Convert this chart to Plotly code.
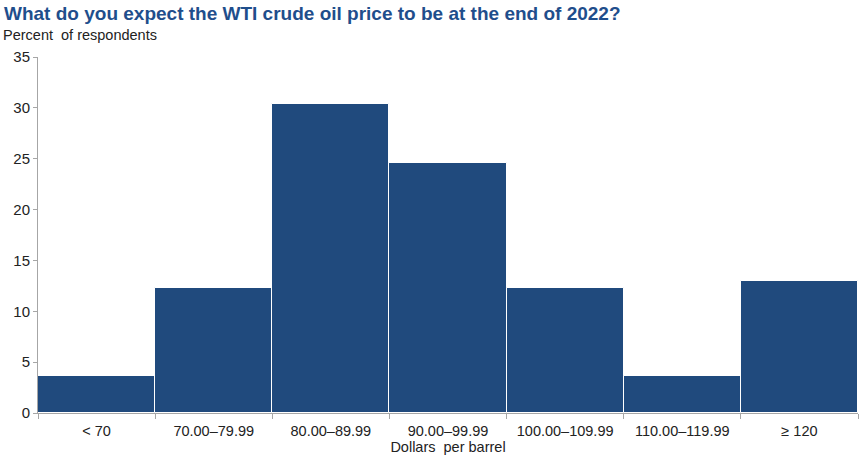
import plotly.graph_objects as go

categories = ["< 70", "70.00–79.99", "80.00–89.99", "90.00–99.99",
              "100.00–109.99", "110.00–119.99", "≥ 120"]
values = [3.6, 12.3, 30.4, 24.6, 12.3, 3.6, 13.0]
y_ticks = [0, 5, 10, 15, 20, 25, 30, 35]

fig = go.Figure(go.Bar(
    x=categories, y=values, width=1,
    marker=dict(color="#204A7D", line=dict(color="white", width=1)),
    hoverinfo="x+y",
))

font = "Liberation Sans, Arial, sans-serif"
fig.update_layout(
    width=868, height=461,
    margin=dict(l=38, r=10, t=57, b=48),
    paper_bgcolor="white", plot_bgcolor="white",
    font=dict(family=font, size=14.5, color="#222222"),
    showlegend=False,
    bargap=0,
)
fig.update_xaxes(
    type="category", tickson="boundaries",
    showline=True, linecolor="#A6A6A6", linewidth=1,
    ticks="outside", ticklen=5, tickcolor="#A6A6A6",
    ticklabelstandoff=5,
    showgrid=False,
    tickfont=dict(size=14.5, color="#222222"),
    title=dict(text="Dollars  per barrel", font=dict(size=14.5, color="#222222"), standoff=0),
)
fig.update_yaxes(
    range=[0, 35], tickvals=y_ticks,
    showline=True, linecolor="#A6A6A6", linewidth=1,
    ticks="outside", ticklen=4, tickcolor="#A6A6A6",
    showgrid=False, zeroline=False,
    tickfont=dict(size=15, color="#222222"),
)
fig.add_annotation(text="<b>What do you expect the WTI crude oil price to be at the end of 2022?</b>",
                   xref="paper", yref="paper", x=-36/820, y=1 + 43/356,
                   xanchor="left", yanchor="middle", showarrow=False,
                   font=dict(family=font, size=19, color="#1F4E8C"))
fig.add_annotation(text="Percent  of respondents",
                   xref="paper", yref="paper", x=-37/820, y=1 + 22/356,
                   xanchor="left", yanchor="middle", showarrow=False,
                   font=dict(family=font, size=14.5, color="#222222"))

fig.write_html("out.html")
